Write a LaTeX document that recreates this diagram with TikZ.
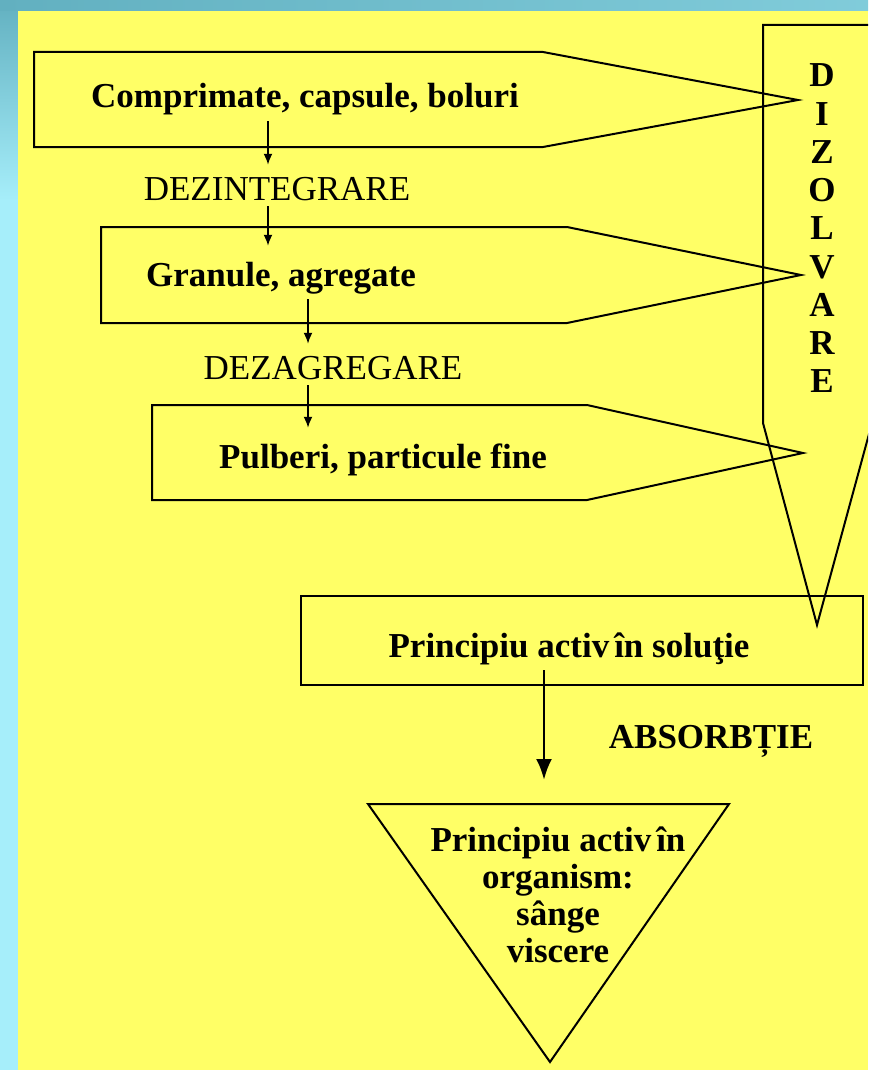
\documentclass[tikz,border=0pt]{standalone}
\usepackage{fontspec}
\setmainfont{Liberation Serif}
\usetikzlibrary{arrows.meta}

\definecolor{bgyellow}{RGB}{255,255,102}
\definecolor{bgteal}{RGB}{98,176,192}
\definecolor{bgcyan}{RGB}{166,238,250}

\tikzset{
  outline/.style={line width=2pt},
  boxtext/.style={font=\fontsize{35}{37}\selectfont\bfseries, inner xsep=0pt, inner ysep=12pt,
    text height=28pt, text depth=1pt, anchor=base},
  steptext/.style={font=\fontsize{35}{37}\selectfont, inner xsep=0pt, inner ysep=4pt,
    text height=31pt, text depth=2pt, anchor=base},
  stacktext/.style={font=\fontsize{35}{37}\selectfont\bfseries, inner sep=0pt, align=center},
  flow/.style={line width=1.8pt, -{Latex[length=11pt,width=9pt]}},
  bigflow/.style={line width=2.8pt, -{Latex[length=21pt,width=16pt]}},
}

\begin{document}
\begin{tikzpicture}[x=1pt,y=-1pt]
	\useasboundingbox (0,0) rectangle (868,1070);
	% background
	\shade[top color=bgteal,bottom color=bgcyan] (0,0) rectangle (18,200);
	\fill[bgcyan] (0,200) rectangle (18,1070);
	\shade[left color=bgteal,right color=bgteal!55!bgcyan] (0,0) rectangle (868,11);
	\fill[bgyellow] (18,11) rectangle (868,1070);

	% shapes
	\begin{scope}
		\clip (0,0) rectangle (868,1070);
		\draw[outline] (763,25) -- (872,25) -- (872,423) -- (817,625) -- (763,423) -- cycle;
	\end{scope}
	\draw[outline] (34,52) -- (543,52) -- (798,100) -- (543,147) -- (34,147) -- cycle;
	\draw[outline] (101,227) -- (567,227) -- (801,275) -- (567,323) -- (101,323) -- cycle;
	\draw[outline] (152,405) -- (587,405) -- (803,453) -- (587,500) -- (152,500) -- cycle;
	\draw[outline] (301,596) rectangle (863,685);
	\draw[outline] (368,804) -- (729,804) -- (550,1062) -- cycle;

	% labels
	\node[boxtext] (comp) at (305,108) {Comprimate, capsule, boluri};
	\node[steptext] (dezint) at (277,200) {DEZINTEGRARE};
	\node[boxtext] (gran) at (281,286) {Granule, agregate};
	\node[steptext] (dezagr) at (333,379) {DEZAGREGARE};
	\node[boxtext] (pulb) at (383,468) {Pulberi, particule fine};
	\node[boxtext] (sol) at (569,657) {Principiu activ\kern5pt în soluţie};
	\node[boxtext] (absorb) at (711,748) {ABSORBȚIE};
	\node[stacktext] (org) at (558,895) {Principiu activ\kern5pt în\\organism:\\sânge\\viscere};
	\node[stacktext,font=\fontsize{35}{38.25}\selectfont\bfseries] (dizolv) at (822,228.5)
		{D\\I\\Z\\O\\L\\V\\A\\R\\E};

	% arrows
	\coordinate (x1) at (268,0);
	\coordinate (x2) at (308,0);
	\coordinate (x3) at (544,0);
	\coordinate (orgin) at (544,780);
	\draw[flow] (comp.south -| x1) -- (dezint.north -| x1);
	\draw[flow] (dezint.south -| x1) -- (gran.north -| x1);
	\draw[flow] (gran.south -| x2) -- (dezagr.north -| x2);
	\draw[flow] (dezagr.south -| x2) -- (pulb.north -| x2);
	\draw[bigflow] (sol.south -| x3) -- (orgin);
\end{tikzpicture}
\end{document}
